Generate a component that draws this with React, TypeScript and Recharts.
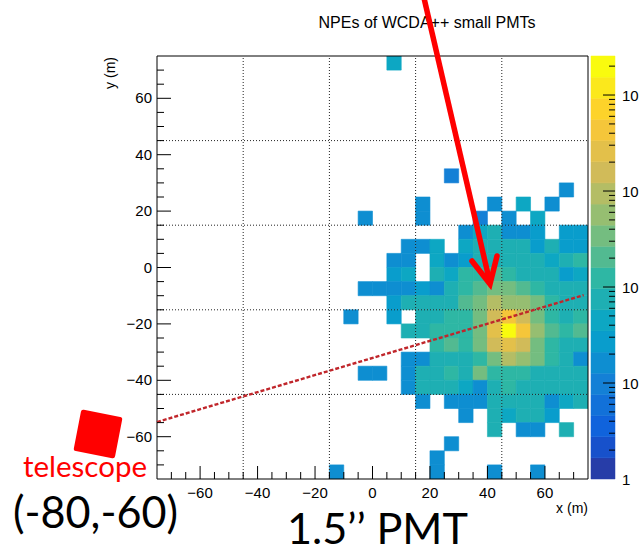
import React from 'react';
import { ComposedChart, XAxis, YAxis, ReferenceArea, ReferenceLine } from 'recharts';

// ---------- data ----------
const BIN = 5;
const xBinStarts = [-15, -10, -5, 0, 5, 10, 15, 20, 25, 30, 35, 40, 45, 50, 55, 60, 65, 70];
const yBinStarts = [70, 65, 60, 55, 50, 45, 40, 35, 30, 25, 20, 15, 10, 5, 0, -5, -10, -15, -20, -25, -30, -35, -40, -45, -50, -55, -60, -65, -70, -75];

// NPE per 5 m x 5 m bin, one row per yBinStarts entry, one column per xBinStarts entry
const npeRows = [
  [0, 0, 0, 0, 45, 0, 0, 0, 0, 0, 0, 0, 0, 0, 0, 0, 0, 0], // 70
  [0, 0, 0, 0, 0, 0, 0, 0, 0, 0, 0, 0, 0, 0, 0, 0, 0, 0], // 65
  [0, 0, 0, 0, 0, 0, 0, 0, 0, 0, 0, 0, 0, 0, 0, 0, 0, 0], // 60
  [0, 0, 0, 0, 0, 0, 0, 0, 0, 0, 0, 0, 0, 0, 0, 0, 0, 0], // 55
  [0, 0, 0, 0, 0, 0, 0, 0, 0, 0, 0, 0, 0, 0, 0, 0, 0, 0], // 50
  [0, 0, 0, 0, 0, 0, 0, 0, 0, 0, 0, 0, 0, 0, 0, 0, 0, 0], // 45
  [0, 0, 0, 0, 0, 0, 0, 0, 0, 0, 0, 0, 0, 0, 0, 0, 0, 0], // 40
  [0, 0, 0, 0, 0, 0, 0, 0, 0, 0, 0, 0, 0, 0, 0, 0, 0, 0], // 35
  [0, 0, 0, 0, 0, 0, 0, 0, 12, 0, 0, 0, 0, 0, 0, 0, 0, 0], // 30
  [0, 0, 0, 0, 0, 0, 0, 0, 0, 0, 0, 0, 0, 0, 0, 0, 20, 0], // 25
  [0, 0, 0, 0, 0, 0, 20, 0, 0, 0, 0, 20, 0, 40, 0, 20, 0, 0], // 20
  [0, 0, 20, 0, 0, 0, 20, 0, 0, 0, 12, 0, 20, 0, 40, 0, 0, 0], // 15
  [0, 0, 0, 0, 0, 0, 0, 0, 0, 20, 40, 60, 20, 20, 25, 0, 30, 25], // 10
  [0, 0, 0, 0, 0, 20, 20, 40, 0, 40, 60, 80, 60, 60, 30, 60, 30, 25], // 5
  [0, 0, 0, 0, 20, 20, 0, 40, 20, 30, 60, 80, 80, 80, 60, 40, 60, 100], // 0
  [0, 0, 0, 0, 30, 40, 0, 60, 40, 100, 120, 200, 120, 80, 80, 60, 30, 40], // -5
  [0, 0, 20, 20, 20, 20, 30, 20, 60, 150, 250, 300, 300, 250, 120, 80, 80, 80], // -10
  [0, 0, 0, 0, 30, 60, 60, 60, 80, 250, 300, 900, 700, 600, 300, 100, 80, 80], // -15
  [0, 20, 0, 0, 30, 0, 60, 80, 150, 150, 300, 1800, 4000, 1500, 300, 100, 80, 150], // -20
  [0, 0, 0, 0, 0, 60, 60, 150, 150, 150, 300, 2500, 20000, 4000, 700, 200, 100, 250], // -25
  [0, 0, 0, 0, 0, 0, 0, 150, 250, 100, 300, 1500, 2500, 1500, 300, 150, 80, 80], // -30
  [0, 0, 0, 0, 0, 20, 20, 80, 80, 80, 150, 300, 900, 600, 300, 150, 80, 20], // -35
  [0, 0, 20, 20, 0, 20, 60, 60, 150, 80, 300, 150, 150, 150, 80, 60, 60, 60], // -40
  [0, 0, 0, 0, 0, 20, 60, 60, 80, 40, 20, 80, 150, 80, 80, 60, 60, 60], // -45
  [0, 0, 0, 0, 0, 0, 20, 0, 20, 20, 20, 60, 80, 60, 60, 20, 40, 60], // -50
  [0, 0, 0, 0, 0, 0, 0, 0, 0, 20, 0, 60, 40, 60, 60, 30, 0, 0], // -55
  [0, 0, 0, 0, 0, 0, 0, 0, 0, 0, 0, 60, 0, 20, 20, 0, 60, 0], // -60
  [0, 0, 0, 0, 0, 0, 0, 0, 20, 0, 0, 0, 0, 0, 0, 0, 0, 0], // -65
  [0, 0, 0, 0, 0, 0, 0, 20, 0, 0, 0, 0, 0, 0, 0, 0, 0, 0], // -70
  [20, 0, 0, 0, 0, 0, 0, 20, 0, 0, 0, 20, 0, 0, 20, 0, 0, 0], // -75
];

const majorTicks = [-60, -40, -20, 0, 20, 40, 60];
const allTicks = [-70, -65, -60, -55, -50, -45, -40, -35, -30, -25, -20, -15, -10, -5, 0, 5, 10, 15, 20, 25, 30, 35, 40, 45, 50, 55, 60, 65, 70];
const poolLines = [-45, -15, 15, 45];
const Z_MIN = 1;
const Z_MAX = 25500;
const zMajor = [1, 10, 100, 1000, 10000];
const zTicks = [2, 3, 4, 5, 6, 7, 8, 9, 10, 20, 30, 40, 50, 60, 70, 80, 90, 100, 200, 300, 400, 500, 600, 700, 800, 900, 1000, 2000, 3000, 4000, 5000, 6000, 7000, 8000, 9000, 10000, 20000];
const sightLine = [{ x: -75, y: -54.8 }, { x: 73.5, y: -9.8 }];

// ---------- ROOT kBird palette ----------
const PAL_STOPS = [0, 0.125, 0.25, 0.375, 0.5, 0.625, 0.75, 0.875, 1];
const PAL_R = [0.2082, 0.0592, 0.078, 0.0232, 0.1802, 0.5301, 0.8186, 0.9956, 0.9764];
const PAL_G = [0.1664, 0.3599, 0.5041, 0.6419, 0.7178, 0.7492, 0.7328, 0.7862, 0.9832];
const PAL_B = [0.5293, 0.8684, 0.8385, 0.7914, 0.6425, 0.4662, 0.3499, 0.1968, 0.0539];
const N_LEVELS = 20;
const LOG_SPAN = Math.log10(Z_MAX / Z_MIN);

function bird(t: number) {
  let i = 0;
  while (i < 7 && t > PAL_STOPS[i + 1]) i++;
  const f = (t - PAL_STOPS[i]) / (PAL_STOPS[i + 1] - PAL_STOPS[i]);
  const c = (a: number[]) => Math.round(255 * (a[i] + (a[i + 1] - a[i]) * f));
  return `rgb(${c(PAL_R)},${c(PAL_G)},${c(PAL_B)})`;
}
const levelColor = (i: number) => bird(Math.floor(((i + 0.99) * 255) / N_LEVELS) / 254);
const levelOf = (v: number) =>
  Math.max(0, Math.min(N_LEVELS - 1, Math.floor((Math.log10(v / Z_MIN) / LOG_SPAN) * N_LEVELS)));

const cells: { x: number; y: number; v: number }[] = [];
npeRows.forEach((row, r) =>
  row.forEach((v, c) => {
    if (v > 0) cells.push({ x: xBinStarts[c], y: yBinStarts[r], v });
  })
);
const levels = Array.from({ length: N_LEVELS }, (_, i) => ({
  lo: Z_MIN * Math.pow(10, (i * LOG_SPAN) / N_LEVELS),
  hi: Z_MIN * Math.pow(10, ((i + 1) * LOG_SPAN) / N_LEVELS),
  color: levelColor(i),
}));

const FONT = '"Liberation Sans", Arial, Helvetica, sans-serif';
const fmt = (v: number) => (v < 0 ? '\u2212' + Math.abs(v) : String(v));

const XTick = (props: any) => {
  const { x, y, payload } = props;
  const v = payload.value;
  const major = majorTicks.includes(v);
  return (
    <g>
      <line x1={x} x2={x} y1={y} y2={y - (major ? 13 : 7)} stroke="#000" strokeWidth={1} />
      {major && (
        <text x={x} y={y + 19} textAnchor="middle" fontFamily={FONT} fontSize={15} fill="#000">
          {fmt(v)}
        </text>
      )}
    </g>
  );
};

const YTick = (props: any) => {
  const { x, y, payload } = props;
  const v = payload.value;
  const major = majorTicks.includes(v);
  return (
    <g>
      <line x1={x} x2={x + (major ? 14 : 7)} y1={y} y2={y} stroke="#000" strokeWidth={1} />
      {major && (
        <text x={x - 5} y={y + 5} textAnchor="end" fontFamily={FONT} fontSize={15} fill="#000">
          {fmt(v)}
        </text>
      )}
    </g>
  );
};

const ZTick = (props: any) => {
  const { x, y, payload } = props;
  const v = payload.value;
  const major = zMajor.includes(v);
  return (
    <g>
      {v !== 1 && <line x1={x} x2={x - (major ? 12 : 6)} y1={y} y2={y} stroke="#000" strokeWidth={1} />}
      {major && (
        <text x={x + 7} y={y + 6} fontFamily={FONT} fontSize={15} fill="#000">
          {v === 1 ? '1' : '10'}
        </text>
      )}
    </g>
  );
};

export default function App() {
  return (
    <div style={{ position: 'absolute', left: 0, top: 0, width: 641, height: 552, overflow: 'hidden', background: '#fff' }}>
      <div style={{ position: 'absolute', left: 0, top: 0 }}>
        <ComposedChart width={641} height={552} data={[]} margin={{ top: 56, right: 53, bottom: 43, left: 107 }}>
          <XAxis
            type="number"
            dataKey="x"
            domain={[-75, 75]}
            ticks={allTicks}
            interval={0}
            allowDataOverflow
            axisLine={false}
            tickLine={false}
            tickSize={0}
            tickMargin={0}
            height={30}
            tick={<XTick />}
          />
          <YAxis
            type="number"
            dataKey="y"
            domain={[-75, 75]}
            ticks={allTicks}
            interval={0}
            allowDataOverflow
            axisLine={false}
            tickLine={false}
            tickSize={0}
            tickMargin={0}
            width={50}
            tick={<YTick />}
          />
          {cells.map((d, k) => {
            const col = levelColor(levelOf(d.v));
            return (
              <ReferenceArea
                key={'c' + k}
                x1={d.x}
                x2={d.x + BIN}
                y1={d.y}
                y2={d.y + BIN}
                fill={col}
                fillOpacity={1}
                stroke={col}
                strokeWidth={0.6}
                ifOverflow="hidden"
              />
            );
          })}
          {poolLines.map((p) => (
            <ReferenceLine key={'vx' + p} x={p} stroke="#222" strokeWidth={1} strokeDasharray="1 2" />
          ))}
          {poolLines.map((p) => (
            <ReferenceLine key={'hy' + p} y={p} stroke="#222" strokeWidth={1} strokeDasharray="1 2" />
          ))}
          <ReferenceLine segment={sightLine} stroke="#c0262b" strokeWidth={2.4} strokeDasharray="4 2" ifOverflow="visible" />
          <ReferenceArea x1={-75} x2={75} y1={-75} y2={75} fill="none" fillOpacity={0} stroke="#000" strokeWidth={1} />
        </ComposedChart>
      </div>
      <div style={{ position: 'absolute', left: 583, top: 0 }}>
        <ComposedChart width={58} height={552} data={[]} margin={{ top: 56, right: 0, bottom: 73, left: 8 }}>
          <XAxis type="number" dataKey="x" domain={[0, 1]} hide allowDataOverflow />
          <YAxis
            type="number"
            dataKey="z"
            orientation="right"
            scale="log"
            domain={[Z_MIN, Z_MAX]}
            ticks={[1, ...zTicks]}
            interval={0}
            allowDataOverflow
            axisLine={false}
            tickLine={false}
            tickSize={0}
            tickMargin={0}
            width={26}
            tick={<ZTick />}
          />
          {levels.map((l, i) => (
            <ReferenceArea key={'l' + i} x1={0} x2={1} y1={l.lo} y2={l.hi} fill={l.color} fillOpacity={1} stroke={l.color} strokeWidth={0.5} />
          ))}
        </ComposedChart>
      </div>
      <svg width={641} height={552} style={{ position: 'absolute', left: 0, top: 0, pointerEvents: 'none' }}>
        <text x={427} y={28} textAnchor="middle" fontFamily={FONT} fontSize={16} fill="#000">
          NPEs of WCDA++ small PMTs
        </text>
        <text x={588} y={513} textAnchor="end" fontFamily={FONT} fontSize={14} fill="#000">
          x (m)
        </text>
        <text x={115} y={57} textAnchor="end" fontFamily={FONT} fontSize={14} fill="#000" transform="rotate(-90 115 57)">
          y (m)
        </text>
        <line x1={424} y1={-2} x2={490} y2={283} stroke="#ff0000" strokeWidth={5.5} />
        <polyline points="472,261 490,284 497,256" fill="none" stroke="#ff0000" strokeWidth={5.5} strokeLinejoin="miter" strokeLinecap="round" />
        <rect x={77} y={413} width={42} height={42} rx={2.5} fill="#ff0000" transform="rotate(11 98 434)" />
        <text x={23} y={477} fontFamily="Lato, 'Open Sans', sans-serif" fontSize={29} fill="#ff0000" textLength={124} lengthAdjust="spacingAndGlyphs">
          telescope
        </text>
        <text x={13} y={528} fontFamily="Lato, 'Open Sans', sans-serif" fontSize={45} fill="#000" textLength={165} lengthAdjust="spacingAndGlyphs">
          (-80,-60)
        </text>
        <text x={287} y={544} fontFamily="Lato, 'Open Sans', sans-serif" fontSize={42} fill="#000" textLength={181} lengthAdjust="spacingAndGlyphs">
          1.5’’ PMT
        </text>
      </svg>
    </div>
  );
}
